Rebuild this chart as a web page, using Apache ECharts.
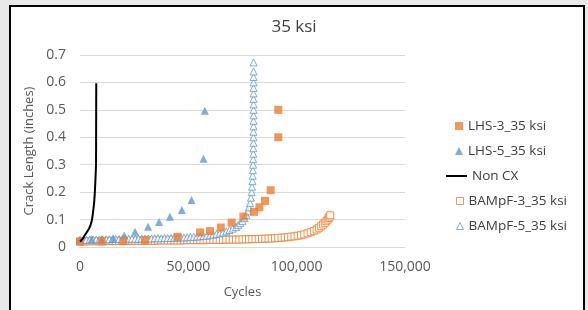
<!DOCTYPE html>
<html>
<head>
<meta charset="utf-8">
<script src="https://cdn.jsdelivr.net/npm/echarts@6/dist/echarts.min.js"></script>
<style>
  html, body { margin: 0; padding: 0; background: #e9e9e9; }
  #content { width: 588px; height: 310px; }
</style>
</head>
<body>
<div id="content"></div>
<script>
// x 轴刻度
var xTicks = [0, 50000, 100000, 150000];
var yTicks = [0, 0.1, 0.2, 0.3, 0.4, 0.5, 0.6, 0.7];

// LHS-3 (实心方块)
var lhs3 = [[0, 0.02], [10000, 0.021], [20000, 0.021], [30000, 0.025], [45000, 0.037],
    [55400, 0.053], [60000, 0.058], [65000, 0.071], [70000, 0.089], [75400, 0.111],
    [80300, 0.128], [82800, 0.145], [85400, 0.168], [88000, 0.207], [91500, 0.4], [91500, 0.5]];

// LHS-5 (实心三角)
var lhs5 = [[0, 0.026], [5400, 0.028], [10000, 0.029], [15400, 0.031], [20400, 0.042],
    [25400, 0.056], [31400, 0.074], [36500, 0.091], [41500, 0.11], [47000, 0.135],
    [51500, 0.171], [57000, 0.322], [57600, 0.497]];

// Non CX (黑线)
var nonCx = [[0, 0.02], [1200, 0.03], [2300, 0.044], [3500, 0.058], [4600, 0.074],
    [5400, 0.095], [6150, 0.135], [6600, 0.17], [6900, 0.208], [7200, 0.26],
    [7400, 0.31], [7450, 0.45], [7500, 0.597]];

// BAMpF-3 (空心方块)
var bampf3 = [[0, 0.02], [1500, 0.02], [3000, 0.021], [4500, 0.021], [6000, 0.021], [7500, 0.021],
    [9000, 0.021], [10500, 0.021], [12000, 0.022], [13500, 0.022], [15000, 0.022], [16500, 0.022],
    [18000, 0.022], [19500, 0.022], [21000, 0.022], [22500, 0.022], [24000, 0.023], [25500, 0.023],
    [27000, 0.023], [28500, 0.023], [30000, 0.023], [31500, 0.023], [33000, 0.023], [34500, 0.023],
    [36000, 0.024], [37500, 0.024], [39000, 0.024], [40500, 0.024], [42000, 0.024], [43500, 0.024],
    [45000, 0.024], [46500, 0.024], [48000, 0.025], [49500, 0.025], [51000, 0.025], [52500, 0.025],
    [54000, 0.025], [55500, 0.025], [57000, 0.025], [58500, 0.026], [60000, 0.026], [61500, 0.026],
    [63000, 0.026], [64500, 0.026], [66000, 0.026], [67500, 0.027], [69000, 0.027], [70500, 0.027],
    [72000, 0.027], [73500, 0.027], [75000, 0.028], [76500, 0.028], [78000, 0.028], [79500, 0.029],
    [81000, 0.029], [82500, 0.029], [84000, 0.03], [85500, 0.03], [87000, 0.031], [88500, 0.031],
    [90000, 0.032], [91500, 0.033], [93000, 0.034], [94500, 0.035], [96000, 0.036], [97500, 0.038],
    [99000, 0.039], [100500, 0.041], [102000, 0.043], [103500, 0.046], [105000, 0.05], [106500, 0.054],
    [108000, 0.059], [109200, 0.064], [110300, 0.07], [111300, 0.076], [112200, 0.082], [113000, 0.088],
    [113700, 0.094], [114300, 0.1], [114800, 0.106], [115200, 0.111], [115500, 0.116]];

// BAMpF-5 (空心三角)
var bampf5 = [[0, 0.025], [1500, 0.026], [3000, 0.026], [4500, 0.027], [6000, 0.027], [7500, 0.027],
    [9000, 0.028], [10500, 0.028], [12000, 0.028], [13500, 0.028], [15000, 0.029], [16500, 0.029],
    [18000, 0.029], [19500, 0.029], [21000, 0.03], [22500, 0.03], [24000, 0.03], [25500, 0.03],
    [27000, 0.03], [28500, 0.031], [30000, 0.031], [31500, 0.031], [33000, 0.031], [34500, 0.032],
    [36000, 0.032], [37500, 0.032], [39000, 0.033], [40500, 0.033], [42000, 0.033], [43500, 0.034],
    [45000, 0.034], [46500, 0.035], [48000, 0.035], [49500, 0.036], [51000, 0.037], [52500, 0.037],
    [54000, 0.038], [55500, 0.039], [57000, 0.04], [58500, 0.041], [60000, 0.043], [61500, 0.045],
    [63000, 0.047], [64500, 0.05], [66000, 0.053], [67500, 0.057], [69000, 0.062], [70500, 0.067],
    [72000, 0.073], [73000, 0.08], [74000, 0.087], [75000, 0.095], [76000, 0.105], [76800, 0.117],
    [77500, 0.13], [78000, 0.145], [78500, 0.16], [78900, 0.18], [79200, 0.2], [79400, 0.22],
    [79600, 0.24], [79700, 0.26], [79800, 0.28], [79900, 0.3], [79950, 0.32], [80000, 0.34],
    [80000, 0.36], [80050, 0.38], [80050, 0.4], [80050, 0.42], [80100, 0.44], [80100, 0.46],
    [80100, 0.48], [80100, 0.5], [80100, 0.52], [80100, 0.54], [80100, 0.56], [80100, 0.58],
    [80100, 0.6], [80100, 0.62], [80100, 0.64], [80100, 0.673]];

var orange = '#ed7d31';
var blue = '#5b9bd5';
var textColor = '#595959';
var fontFamily = '"Open Sans", Lato, sans-serif';

var myChart = echarts.init(document.getElementById('content'));

// 图例文字样式
var legendText = { color: '#404040', fontSize: 13.5, lineHeight: 16, fontFamily: fontFamily };

var option = {
    animation: false,
    backgroundColor: '#e9e9e9',
    textStyle: { fontFamily: fontFamily },
    graphic: [{
        type: 'rect',
        z: -10,
        shape: { x: 10, y: 6, width: 574, height: 320 },
        style: { fill: '#ffffff', stroke: '#000000', lineWidth: 2 }
    }],
    title: {
        text: '35 ksi',
        left: 'center',
        top: 14,
        textStyle: { color: '#404040', fontSize: 17, fontWeight: 'normal', fontFamily: fontFamily }
    },
    legend: [{
        data: ['LHS-3_35 ksi', 'LHS-5_35 ksi'],
        orient: 'vertical',
        left: 450,
        top: 113,
        itemWidth: 8,
        itemHeight: 8,
        itemGap: 9,
        textStyle: legendText
    }, {
        data: [{ name: 'Non CX', icon: 'rect' }],
        orient: 'vertical',
        left: 441,
        top: 163,
        itemWidth: 21,
        itemHeight: 2,
        textStyle: legendText
    }, {
        data: ['BAMpF-3_35 ksi', 'BAMpF-5_35 ksi'],
        orient: 'vertical',
        left: 451,
        top: 188,
        itemWidth: 7,
        itemHeight: 7,
        itemGap: 9,
        itemStyle: { borderWidth: 1 },
        textStyle: legendText
    }],
    grid: { left: 80, right: 183, top: 55, bottom: 63 },
    xAxis: {
        type: 'value',
        min: xTicks[0],
        max: xTicks[xTicks.length - 1],
        interval: 50000,
        name: 'Cycles',
        nameLocation: 'middle',
        nameGap: 39,
        nameTextStyle: { color: textColor, fontSize: 13 },
        axisLine: { show: true, lineStyle: { color: '#d9d9d9' } },
        axisTick: { show: false },
        splitLine: { show: false },
        axisLabel: {
            color: textColor, fontSize: 14, margin: 13,
            formatter: function (v) { return v.toLocaleString('en-US'); }
        }
    },
    yAxis: {
        type: 'value',
        min: yTicks[0],
        max: yTicks[yTicks.length - 1],
        interval: 0.1,
        name: 'Crack Length (inches)',
        nameLocation: 'middle',
        nameGap: 32,
        nameTextStyle: { color: textColor, fontSize: 13 },
        axisLine: { show: false },
        axisTick: { show: false },
        splitLine: { lineStyle: { color: '#d9d9d9' } },
        axisLabel: {
            color: textColor, fontSize: 14, margin: 14,
            formatter: function (v) { return String(Math.round(v * 10) / 10); }
        }
    },
    series: [{
        name: 'BAMpF-3_35 ksi',
        type: 'scatter',
        symbol: 'rect',
        symbolSize: 7,
        itemStyle: { color: '#ffffff', borderColor: orange, borderWidth: 1 },
        data: bampf3
    }, {
        name: 'BAMpF-5_35 ksi',
        type: 'scatter',
        symbol: 'triangle',
        symbolSize: 7,
        itemStyle: { color: '#ffffff', borderColor: blue, borderWidth: 1 },
        data: bampf5
    }, {
        name: 'LHS-5_35 ksi',
        type: 'scatter',
        symbol: 'triangle',
        symbolSize: 8,
        itemStyle: { color: blue },
        data: lhs5
    }, {
        name: 'LHS-3_35 ksi',
        type: 'scatter',
        symbol: 'rect',
        symbolSize: 8,
        itemStyle: { color: orange },
        data: lhs3
    }, {
        name: 'Non CX',
        type: 'line',
        smooth: true,
        symbol: 'none',
        lineStyle: { color: '#000000', width: 2 },
        itemStyle: { color: '#000000' },
        data: nonCx
    }]
};

myChart.setOption(option);
</script>
</body>
</html>
